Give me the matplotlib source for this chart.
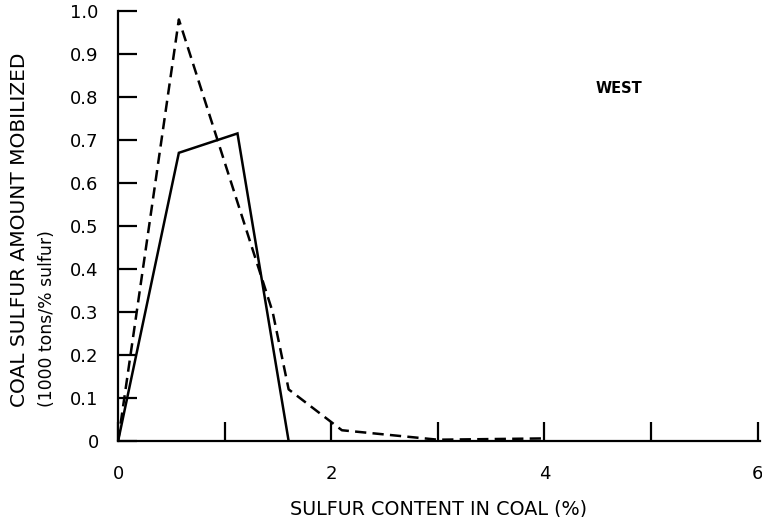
import matplotlib
matplotlib.use("Agg")
import matplotlib.pyplot as plt

# sulfur content (%) vs amount mobilized (1000 tons/% sulfur)
solid_x = [0.0, 0.57, 1.12, 1.6]
solid_y = [0.0, 0.67, 0.715, 0.0]

dashed_x = [0.0, 0.57, 1.45, 1.6, 2.1, 3.0, 4.0]
dashed_y = [0.0, 0.98, 0.30, 0.12, 0.025, 0.003, 0.006]

x_ticks = [0, 1, 2, 3, 4, 5, 6]
x_labels = ["0", "", "2", "", "4", "", "6"]
y_ticks = [0, 0.1, 0.2, 0.3, 0.4, 0.5, 0.6, 0.7, 0.8, 0.9, 1.0]
y_labels = ["0", "0.1", "0.2", "0.3", "0.4", "0.5", "0.6", "0.7", "0.8", "0.9", "1.0"]

plt.rcParams['font.family'] = ['DejaVu Sans']

fig = plt.figure(figsize=(7.62, 5.17), dpi=100)
ax = fig.add_axes([0.155, 0.147, 0.842, 0.832])

ax.plot(solid_x, solid_y, color='black', lw=1.8, solid_joinstyle='miter')
ax.plot(dashed_x, dashed_y, color='black', lw=1.8, dashes=(4.5, 2.5))

ax.set_xlim(0, 6.02)
ax.set_ylim(0, 1.0)
ax.spines['top'].set_visible(False)
ax.spines['right'].set_visible(False)
ax.spines['left'].set_linewidth(1.6)
ax.spines['bottom'].set_linewidth(1.6)

ax.set_xticks(x_ticks)
ax.set_xticklabels(x_labels)
ax.set_yticks(y_ticks)
ax.set_yticklabels(y_labels)
ax.tick_params(axis='both', direction='in', length=14, width=1.6, labelsize=13)
ax.tick_params(axis='x', pad=17)
ax.tick_params(axis='y', pad=14)

ax.set_xlabel("SULFUR CONTENT IN COAL (%)", fontsize=13.8, labelpad=12)
fig.text(0.026, 0.212, "COAL SULFUR AMOUNT MOBILIZED", rotation=90, fontsize=14.5,
         ha='center', va='bottom')
fig.text(0.062, 0.212, "(1000 tons/% sulfur)", rotation=90, fontsize=12.4,
         ha='center', va='bottom')

ax.text(4.7, 0.82, "WEST", fontsize=10.5, fontweight='bold', ha='center', va='center')

fig.savefig("out.png", dpi=100)
